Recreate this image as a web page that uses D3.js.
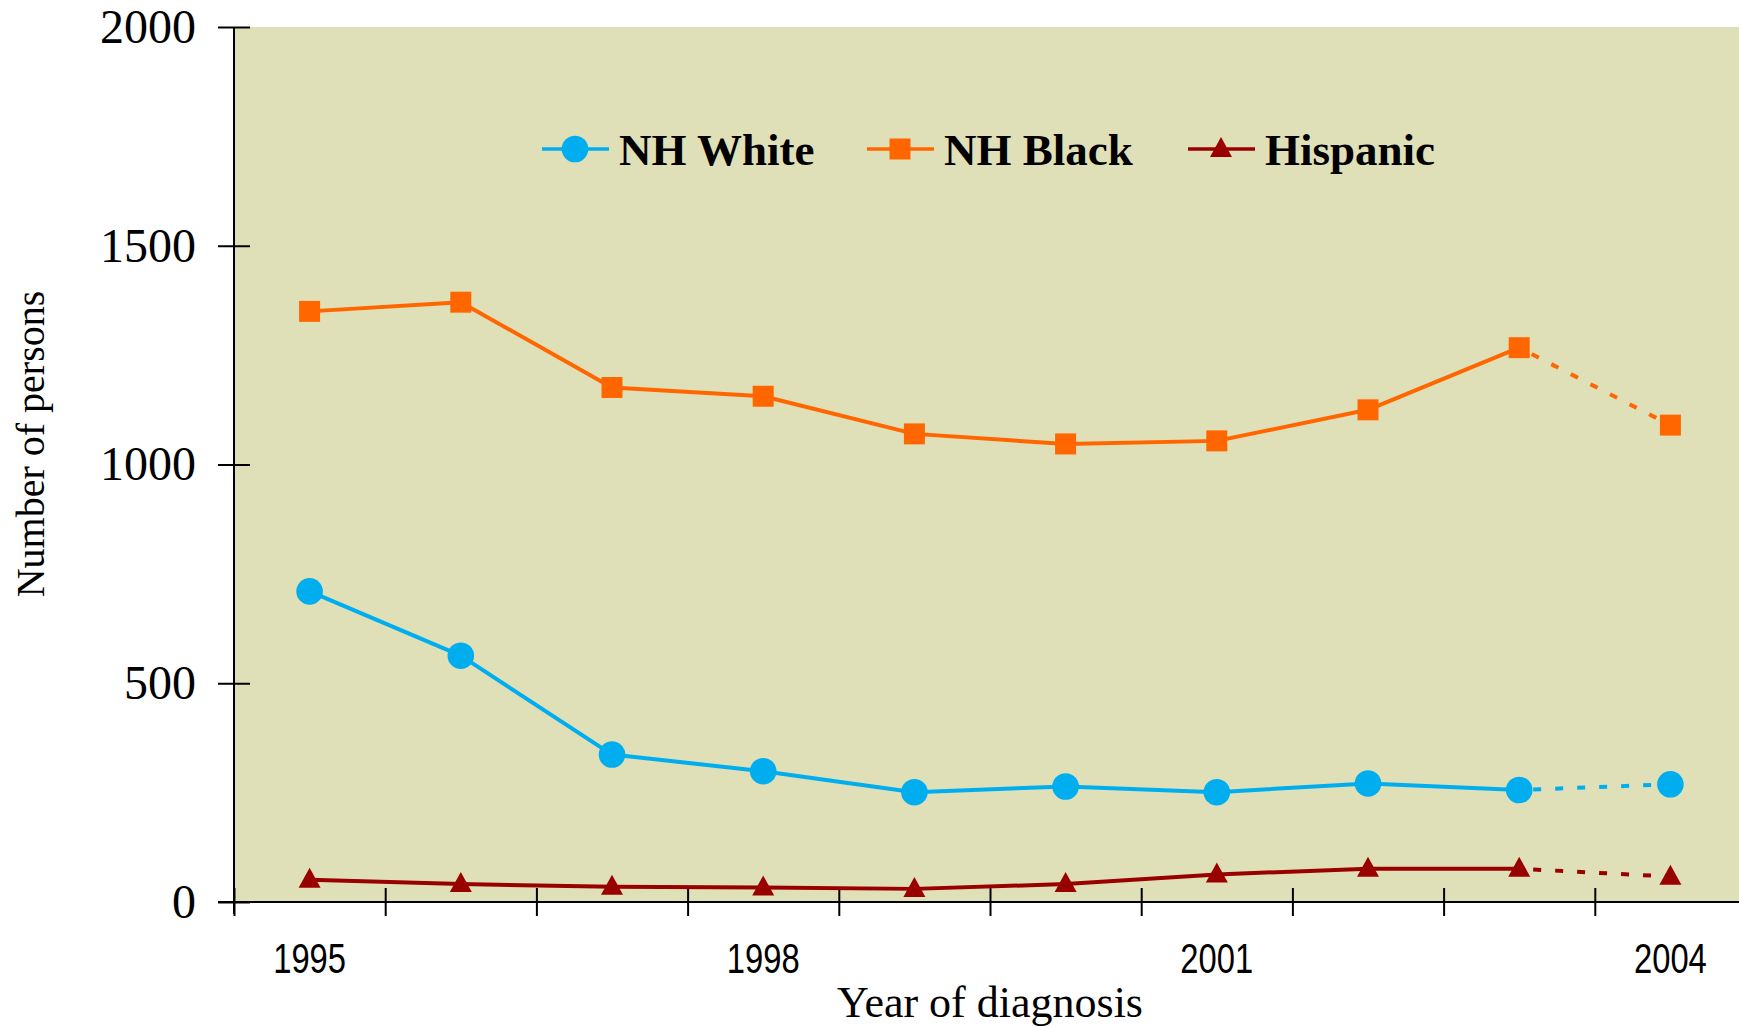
<!DOCTYPE html>
<html>
<head>
<meta charset="utf-8">
<script src="https://cdn.jsdelivr.net/npm/d3@7"></script>
<style>
  html, body { margin: 0; padding: 0; background: #ffffff; }
  svg { display: block; }
</style>
</head>
<body>
<svg id="chart" width="1739" height="1027"></svg>
<script>
const years = [1995, 1996, 1997, 1998, 1999, 2000, 2001, 2002, 2003, 2004];
const labeledYears = [1995, 1998, 2001, 2004];
const yTicks = [0, 500, 1000, 1500, 2000];
const nhWhite = [710, 563, 337, 299, 251, 264, 251, 271, 256, 269];
const nhBlack = [1350, 1371, 1176, 1156, 1070, 1047, 1054, 1125, 1267, 1090];
const hispanic = [51, 41, 35, 33, 30, 41, 63, 76, 76, 58];

const seriesNames = ["NH White", "NH Black", "Hispanic"];
const seriesColors = ["#00AEEF", "#FF6600", "#990000"];
const seriesShapes = ["circle", "square", "triangle"];

const svg = d3.select("#chart");
const plotLeft = 234, plotTop = 27, plotBottom = 902, bandW = 151.2;

const x = d3.scaleBand().domain(years).range([plotLeft, plotLeft + bandW * years.length]).padding(0);
const xEdge = d3.scaleLinear().domain([0, years.length]).range([plotLeft, plotLeft + bandW * years.length]);
const y = d3.scaleLinear().domain([0, 2000]).range([plotBottom, plotTop]);
const cx = d => x(d) + x.bandwidth() / 2;

// plot background
svg.append("rect").attr("x", plotLeft).attr("y", plotTop)
  .attr("width", 1739 - plotLeft).attr("height", plotBottom - plotTop)
  .attr("fill", "#E0E0B8");

// y axis
const yAxis = svg.append("g").attr("transform", `translate(${plotLeft},0)`)
  .call(d3.axisLeft(y).tickValues(yTicks).tickSize(16).tickPadding(22).tickFormat(d3.format("d")));
yAxis.select(".domain").remove();
yAxis.selectAll(".tick line").attr("x1", 16).attr("x2", -16).attr("stroke", "#000").attr("stroke-width", 2);
yAxis.selectAll(".tick text").attr("font-family", "'Liberation Serif', 'Times New Roman', serif")
  .attr("font-size", 48).attr("fill", "#000");
svg.append("line").attr("x1", plotLeft).attr("x2", plotLeft).attr("y1", y(2000)).attr("y2", plotBottom + 12)
  .attr("stroke", "#000").attr("stroke-width", 2);

// x axis
const xAxis = svg.append("g").attr("transform", `translate(0,${plotBottom})`)
  .call(d3.axisBottom(xEdge).tickValues(d3.range(0, years.length)).tickSize(14).tickFormat(""));
xAxis.select(".domain").remove();
xAxis.selectAll(".tick line").attr("y1", -14).attr("y2", 14).attr("stroke", "#000").attr("stroke-width", 2);
svg.append("line").attr("x1", plotLeft - 16).attr("x2", 1739).attr("y1", plotBottom).attr("y2", plotBottom)
  .attr("stroke", "#000").attr("stroke-width", 2);

svg.append("g").selectAll("text").data(labeledYears).join("text")
  .attr("transform", d => `translate(${cx(d)},973) scale(0.78,1)`)
  .attr("text-anchor", "middle")
  .attr("font-family", "'Liberation Sans', Arial, sans-serif")
  .attr("font-size", 42).attr("fill", "#000")
  .text(d => d);

// axis titles
svg.append("text").attr("x", 990).attr("y", 1017).attr("text-anchor", "middle")
  .attr("font-family", "'Liberation Serif', 'Times New Roman', serif").attr("font-size", 44)
  .text("Year of diagnosis");
svg.append("text").attr("transform", "translate(44,444) rotate(-90)").attr("text-anchor", "middle")
  .attr("font-family", "'Liberation Serif', 'Times New Roman', serif").attr("font-size", 40)
  .text("Number of persons");

// marker drawing
function drawMarker(g, shape, color, px, py) {
  if (shape === "circle") {
    g.append("circle").attr("cx", px).attr("cy", py).attr("r", 13.3).attr("fill", color);
  } else if (shape === "square") {
    const w = 21, h = 21;
    g.append("rect").attr("x", px - w / 2).attr("y", py - h / 2).attr("width", w).attr("height", h).attr("fill", color);
  } else {
    const w = 22, h = 20;
    g.append("path").attr("d", `M${px},${py - h * 0.6}L${px + w / 2},${py + h * 0.4}L${px - w / 2},${py + h * 0.4}Z`)
      .attr("fill", color);
  }
}

const allSeries = [nhWhite, nhBlack, hispanic];
const line = d3.line().x(d => cx(d[0])).y(d => y(d[1]));
allSeries.forEach((vals, i) => {
  const pts = years.map((yr, j) => [yr, vals[j]]);
  const g = svg.append("g");
  g.append("path").attr("d", line(pts.slice(0, 9))).attr("fill", "none")
    .attr("stroke", seriesColors[i]).attr("stroke-width", 4).attr("stroke-linejoin", "round");
  g.append("path").attr("d", line(pts.slice(8, 10))).attr("fill", "none")
    .attr("stroke", seriesColors[i]).attr("stroke-width", 4).attr("stroke-dasharray", "8,14")
    .attr("stroke-dashoffset", -14);
  pts.forEach(p => drawMarker(g, seriesShapes[i], seriesColors[i], cx(p[0]), y(p[1])));
});

// legend
const legendX = [542, 867, 1188];
const legendY = 149;
seriesNames.forEach((name, i) => {
  const g = svg.append("g");
  g.append("line").attr("x1", legendX[i]).attr("x2", legendX[i] + 67).attr("y1", legendY).attr("y2", legendY)
    .attr("stroke", seriesColors[i]).attr("stroke-width", 3.5);
  drawMarker(g, seriesShapes[i], seriesColors[i], legendX[i] + 33, legendY);
  g.append("text").attr("x", legendX[i] + 77).attr("y", legendY + 16)
    .attr("font-family", "'Liberation Serif', 'Times New Roman', serif").attr("font-weight", "bold")
    .attr("font-size", 45).attr("fill", "#000").text(name);
});
</script>
</body>
</html>
